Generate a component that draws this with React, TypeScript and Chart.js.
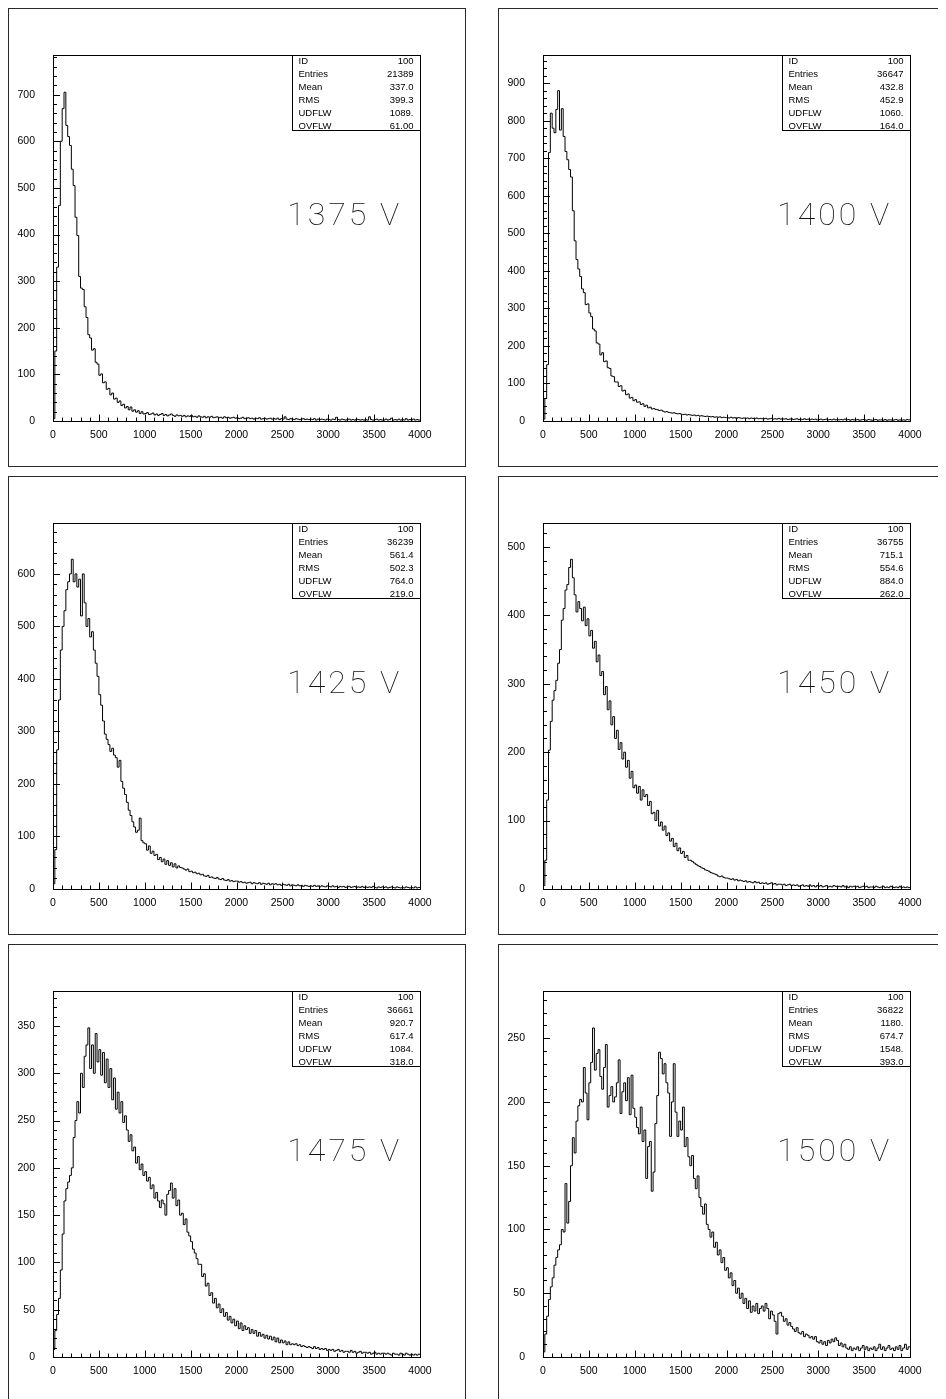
import React, { useEffect, useRef } from "react";
import { Chart, registerables } from "chart.js";

Chart.register(...registerables);

const BIN_WIDTH = 20;
const X_MIN = 0;
const X_MAX = 4000;
const xTickLabels = ["0", "500", "1000", "1500", "2000", "2500", "3000", "3500", "4000"];

const statNames = ["ID", "Entries", "Mean", "RMS", "UDFLW", "OVFLW"];
const stats1375 = ["100", "21389", "337.0", "399.3", "1089.", "61.00"];
const stats1400 = ["100", "36647", "432.8", "452.9", "1060.", "164.0"];
const stats1425 = ["100", "36239", "561.4", "502.3", "764.0", "219.0"];
const stats1450 = ["100", "36755", "715.1", "554.6", "884.0", "262.0"];
const stats1475 = ["100", "36661", "920.7", "617.4", "1084.", "318.0"];
const stats1500 = ["100", "36822", "1180.", "674.7", "1548.", "393.0"];

const voltageLabels = ["1375 V", "1400 V", "1425 V", "1450 V", "1475 V", "1500 V"];

// bin contents, 200 bins of width 20 from 0 to 4000
const h1375 = [
  5, 150, 330, 462, 600, 670, 705, 634, 610, 591,
  540, 505, 437, 398, 310, 285, 282, 245, 222, 185,
  178, 152, 155, 126, 122, 98, 101, 82, 84, 68,
  70, 56, 60, 47, 49, 40, 43, 33, 36, 28,
  31, 24, 30, 21, 24, 19, 22, 16, 20, 15,
  16, 18, 14, 15, 17, 13, 15, 12, 14, 16,
  12, 14, 11, 13, 15, 12, 10, 13, 11, 12,
  10, 12, 9, 11, 10, 12, 9, 10, 8, 11,
  9, 8, 10, 7, 9, 8, 10, 7, 8, 9,
  7, 8, 6, 9, 7, 8, 6, 7, 8, 6,
  7, 5, 6, 8, 5, 6, 7, 5, 6, 4,
  6, 5, 7, 4, 5, 6, 4, 5, 6, 4,
  5, 4, 6, 3, 5, 4, 9, 4, 3, 5,
  4, 3, 5, 4, 3, 4, 5, 3, 4, 3,
  4, 3, 5, 2, 4, 3, 4, 3, 2, 4,
  3, 2, 4, 3, 8, 3, 2, 4, 3, 2,
  3, 4, 2, 3, 2, 4, 3, 2, 3, 2,
  3, 2, 9, 3, 2, 3, 4, 2, 3, 2,
  2, 4, 2, 3, 6, 2, 3, 2, 4, 2,
  3, 2, 5, 2, 3, 2, 4, 2, 3, 2,
];

const h1400 = [
  5, 60, 150, 715, 820, 780, 768, 830, 880, 775,
  832, 758, 718, 696, 670, 650, 560, 480, 430, 405,
  385, 352, 342, 310, 312, 288, 278, 245, 240, 208,
  205, 176, 182, 158, 160, 142, 140, 120, 118, 104,
  104, 92, 94, 80, 82, 70, 72, 61, 63, 54,
  57, 50, 51, 44, 46, 39, 42, 35, 37, 32,
  33, 31, 30, 28, 29, 26, 24, 25, 23, 22,
  21, 22, 20, 19, 20, 18, 17, 18, 16, 17,
  16, 15, 16, 14, 15, 13, 14, 13, 12, 13,
  12, 11, 12, 10, 11, 10, 11, 9, 10, 9,
  9, 8, 10, 8, 9, 7, 9, 8, 7, 8,
  7, 8, 6, 8, 7, 6, 8, 6, 7, 6,
  6, 7, 5, 6, 7, 5, 6, 5, 7, 5,
  6, 5, 6, 4, 5, 6, 4, 5, 6, 4,
  5, 4, 6, 4, 5, 3, 5, 4, 5, 3,
  4, 5, 3, 4, 5, 3, 4, 3, 5, 3,
  4, 3, 4, 3, 5, 3, 4, 2, 4, 3,
  3, 4, 2, 3, 4, 3, 2, 4, 3, 2,
  3, 4, 2, 3, 3, 2, 4, 2, 3, 3,
  2, 3, 4, 2, 3, 2, 3, 2, 4, 3,
];

const h1425 = [
  10, 75, 265, 360, 455, 500, 530, 570, 585, 600,
  628, 585, 600, 575, 590, 520, 600, 545, 500, 515,
  480, 490, 455, 430, 405, 370, 350, 320, 295, 285,
  275, 262, 268, 255, 250, 232, 245, 205, 192, 180,
  165, 150, 140, 128, 118, 108, 112, 135, 92, 88,
  86, 74, 82, 68, 72, 64, 66, 56, 60, 52,
  57, 47, 54, 45, 50, 42, 48, 40, 44, 41,
  40, 38, 36, 38, 33, 34, 31, 32, 29, 30,
  27, 28, 25, 24, 26, 22, 23, 21, 20, 22,
  19, 18, 20, 17, 16, 18, 15, 16, 14, 15,
  15, 13, 14, 12, 13, 11, 12, 13, 10, 12,
  11, 10, 12, 9, 11, 10, 9, 11, 8, 10,
  9, 10, 8, 9, 7, 9, 8, 7, 9, 6,
  8, 7, 6, 8, 6, 7, 5, 7, 6, 5,
  6, 5, 7, 5, 6, 4, 6, 5, 4, 6,
  5, 4, 6, 4, 5, 3, 5, 4, 5, 3,
  4, 5, 3, 4, 5, 3, 4, 3, 5, 3,
  4, 3, 4, 3, 5, 3, 2, 4, 3, 4,
  3, 4, 2, 3, 4, 3, 2, 4, 3, 2,
  3, 2, 4, 3, 2, 3, 2, 4, 2, 3,
];

const h1450 = [
  5, 42, 130, 203, 245, 276, 290, 305, 330, 350,
  393, 410, 437, 445, 470, 482, 455, 430, 405, 420,
  410, 392, 412, 385, 395, 370, 378, 352, 362, 332,
  342, 312, 318, 284, 296, 262, 275, 240, 252, 220,
  232, 204, 214, 190, 200, 178, 188, 162, 172, 148,
  152, 140, 150, 130, 145, 135, 138, 122, 128, 110,
  112, 100, 115, 92, 98, 86, 92, 78, 82, 70,
  74, 62, 67, 56, 60, 52, 55, 46, 49, 42,
  42, 40, 38, 36, 34, 33, 31, 30, 28, 27,
  26, 24, 23, 22, 21, 19, 18, 19, 17, 16,
  16, 15, 14, 15, 13, 14, 12, 13, 12, 11,
  12, 10, 11, 10, 9, 11, 9, 10, 8, 9,
  8, 9, 7, 8, 9, 7, 8, 6, 7, 7,
  6, 7, 5, 6, 7, 5, 6, 5, 6, 4,
  5, 6, 4, 5, 4, 6, 4, 5, 3, 5,
  4, 5, 3, 4, 5, 3, 4, 3, 5, 4,
  3, 4, 3, 5, 3, 4, 2, 4, 3, 4,
  3, 4, 2, 3, 4, 3, 4, 2, 3, 3,
  2, 4, 3, 2, 3, 4, 2, 3, 2, 4,
  3, 2, 3, 2, 4, 2, 3, 2, 3, 2,
];

const h1475 = [
  8, 28, 45, 62, 92, 130, 165, 178, 185, 192,
  200, 232, 250, 270, 258, 300, 285, 318, 330, 348,
  305, 330, 300, 342, 312, 325, 298, 322, 290, 315,
  285, 305, 272, 295, 262, 280, 258, 270, 248, 255,
  240, 228, 235, 218, 222, 205, 212, 198, 204, 192,
  196, 186, 190, 178, 182, 168, 174, 165, 158, 166,
  162, 150, 172, 176, 184, 168, 178, 160, 166, 150,
  152, 140, 146, 132, 128, 122, 114, 110, 104, 98,
  98, 85, 88, 75, 78, 65, 68, 57, 62, 52,
  56, 47, 51, 43, 47, 39, 43, 36, 40, 33,
  38, 30, 36, 28, 33, 29, 31, 25, 29, 25,
  28, 22, 26, 22, 24, 20, 23, 19, 22, 18,
  21, 16, 20, 15, 18, 15, 17, 13, 16, 13,
  14, 13, 14, 12, 13, 11, 12, 11, 10, 11,
  10, 9, 11, 9, 10, 8, 9, 8, 9, 7,
  8, 7, 8, 6, 7, 8, 6, 7, 5, 6,
  6, 5, 7, 5, 6, 4, 5, 6, 4, 5,
  5, 4, 5, 3, 4, 5, 3, 4, 3, 4,
  4, 3, 4, 3, 2, 4, 3, 3, 2, 4,
  3, 2, 4, 3, 2, 3, 2, 3, 2, 3,
];

const h1500 = [
  4, 18, 32, 45, 55, 62, 72, 78, 84, 88,
  100, 98, 136, 105, 122, 150, 172, 160, 185, 197,
  202, 200, 227, 207, 186, 215, 231, 258, 225, 238,
  241, 220, 210, 227, 245, 196, 205, 212, 200, 204,
  215, 233, 191, 208, 215, 201, 219, 190, 221, 195,
  188, 180, 175, 196, 169, 178, 140, 165, 169, 130,
  145, 183, 205, 239, 234, 222, 230, 215, 207, 173,
  200, 230, 192, 173, 185, 178, 196, 165, 172, 157,
  150, 158, 140, 132, 142, 125, 118, 112, 120, 104,
  100, 94, 98, 86, 90, 80, 84, 74, 78, 68,
  70, 62, 66, 56, 60, 50, 54, 46, 50, 42,
  46, 38, 44, 35, 40, 36, 42, 34, 38, 40,
  36, 42, 38, 30, 36, 33, 28, 18, 34, 35,
  32, 28, 30, 25, 27, 24, 22, 20, 23, 19,
  18, 20, 16, 18, 17, 15, 16, 14, 16, 12,
  11, 13, 10, 12, 9, 13, 11, 14, 12, 15,
  13, 9, 11, 8, 10, 7, 6, 8, 5, 7,
  6, 8, 5, 7, 9, 6, 8, 5, 7, 6,
  8, 5, 7, 10, 6, 8, 5, 7, 9, 6,
  7, 5, 8, 6, 9, 5, 7, 10, 6, 8,
];

const seriesList = [h1375, h1400, h1425, h1450, h1475, h1500];
const statsList = [stats1375, stats1400, stats1425, stats1450, stats1475, stats1500];
const yMaxList = [785, 975, 697, 535, 387, 287];
const yMajorList = [100, 100, 100, 100, 50, 50];
const yMinorList = [20, 20, 20, 20, 10, 10];

const PANEL_W = 458;
const PANEL_H = 459;
const COL_X = [0, 490];
const ROW_Y = [0, 468, 936];

const TICK_FONT = "'Liberation Sans', Arial, sans-serif";

function yTickValues(idx: number) {
  const out: number[] = [];
  const major = yMajorList[idx];
  for (let k = 0; k * major <= yMaxList[idx]; k++) out.push(k * major);
  return out;
}

function makePanelPlugin(idx: number) {
  return {
    id: "pawPanel" + idx,
    afterDatasetsDraw(chart: any) {
      const { ctx, chartArea: a } = chart;
      const xs = chart.scales.x;
      const ys = chart.scales.y;
      const yMax = yMaxList[idx];
      const major = yMajorList[idx];
      const minor = yMinorList[idx];
      ctx.save();
      // outer frame
      ctx.lineWidth = 1;
      ctx.strokeStyle = "#2a2a2a";
      ctx.strokeRect(0.5, 0.5, chart.width - 1, chart.height - 1);
      // plot frame
      ctx.strokeStyle = "#000";
      ctx.strokeRect(a.left + 0.5, a.top + 0.5, a.right - a.left, a.bottom - a.top);
      // y ticks (inward)
      const nY = Math.floor(yMax / minor + 1e-6);
      for (let k = 0; k <= nY; k++) {
        const v = k * minor;
        const isMajor = Math.abs(v / major - Math.round(v / major)) < 1e-6;
        const py = Math.round(ys.getPixelForValue(v)) + 0.5;
        ctx.beginPath();
        ctx.moveTo(a.left, py);
        ctx.lineTo(a.left + (isMajor ? 7 : 4), py);
        ctx.stroke();
      }
      // x ticks (inward)
      for (let v = X_MIN; v <= X_MAX; v += 100) {
        const isMajor = v % 500 === 0;
        const px = Math.round(xs.getPixelForValue(v)) + 0.5;
        ctx.beginPath();
        ctx.moveTo(px, a.bottom + 0.5);
        ctx.lineTo(px, a.bottom + 0.5 - (isMajor ? 7 : 4));
        ctx.stroke();
      }
      // statistics box
      const bx = 284.5;
      const by = a.top + 0.5;
      const bw = a.right + 0.5 - bx;
      const bh = 75;
      ctx.fillStyle = "#fff";
      ctx.fillRect(bx, by, bw, bh);
      ctx.strokeRect(bx, by, bw, bh);
      ctx.fillStyle = "#000";
      ctx.font = "9.5px " + TICK_FONT;
      ctx.textBaseline = "middle";
      const stats = statsList[idx];
      statNames.forEach((n, i) => {
        const ty = a.top + 6 + i * 13.1;
        ctx.textAlign = "left";
        ctx.fillText(n, bx + 6, ty);
        ctx.textAlign = "right";
        ctx.fillText(stats[i], a.right - 6.5, ty);
      });
      // voltage label (thin)
      ctx.font = "100 32px 'Roboto', 'DejaVu Sans', sans-serif";
      try {
        (ctx as any).letterSpacing = "3px";
      } catch (e) {
        /* ignore */
      }
      ctx.fillStyle = "#111";
      ctx.textAlign = "right";
      ctx.textBaseline = "alphabetic";
      ctx.fillText(voltageLabels[idx], 394, 217);
      try {
        (ctx as any).letterSpacing = "0px";
      } catch (e) {
        /* ignore */
      }
      ctx.restore();
    },
  };
}

function Panel({ idx, left, top }: { idx: number; left: number; top: number }) {
  const ref = useRef<HTMLCanvasElement | null>(null);
  useEffect(() => {
    const values = seriesList[idx];
    const pts = [{ x: X_MIN, y: 0 }]
      .concat(values.map((v, i) => ({ x: X_MIN + i * BIN_WIDTH, y: v })))
      .concat([{ x: X_MAX, y: values[values.length - 1] }]);
    const major = yMajorList[idx];
    const yTicks = yTickValues(idx);
    const xTicks = xTickLabels.map(Number);
    const chart = new Chart(ref.current as HTMLCanvasElement, {
      type: "line",
      data: {
        datasets: [
          {
            data: pts,
            stepped: "before",
            borderColor: "#000",
            borderWidth: 1,
            pointRadius: 0,
            fill: false,
            tension: 0,
          } as any,
        ],
      },
      options: {
        animation: false,
        responsive: false,
        devicePixelRatio: 1,
        events: [],
        layout: { padding: { top: 47, right: 46, left: 0, bottom: 0 } },
        plugins: { legend: { display: false }, tooltip: { enabled: false } },
        scales: {
          x: {
            type: "linear",
            min: X_MIN,
            max: X_MAX,
            afterBuildTicks: (s: any) => {
              s.ticks = xTicks.map((v) => ({ value: v }));
            },
            afterFit: (s: any) => {
              s.height = 46;
            },
            grid: { display: false },
            border: { display: false },
            ticks: {
              autoSkip: false,
              maxRotation: 0,
              padding: 0,
              color: "#000",
              font: { family: TICK_FONT, size: 10.5 },
              callback: (v: any) => {
                const i = xTicks.indexOf(Number(v));
                return i >= 0 ? xTickLabels[i] : "";
              },
            },
          },
          y: {
            type: "linear",
            min: 0,
            max: yMaxList[idx],
            afterBuildTicks: (s: any) => {
              s.ticks = yTicks.map((v) => ({ value: v }));
            },
            afterFit: (s: any) => {
              s.width = 45;
            },
            grid: { display: false },
            border: { display: false },
            ticks: {
              autoSkip: false,
              padding: 10,
              color: "#000",
              font: { family: TICK_FONT, size: 10.5 },
              callback: (v: any) => (Number(v) % major === 0 ? String(v) : ""),
            },
          },
        },
      } as any,
      plugins: [makePanelPlugin(idx)],
    });
    return () => chart.destroy();
  }, [idx]);
  return (
    <canvas
      ref={ref}
      width={PANEL_W}
      height={PANEL_H}
      style={{ position: "absolute", left, top, width: PANEL_W, height: PANEL_H }}
    />
  );
}

export default function App() {
  useEffect(() => {
    document.body.style.overflow = "hidden";
    document.documentElement.style.overflow = "hidden";
  }, []);
  const panels = [];
  for (let r = 0; r < 3; r++) {
    for (let c = 0; c < 2; c++) {
      const idx = r * 2 + c;
      panels.push(<Panel key={idx} idx={idx} left={COL_X[c]} top={ROW_Y[r]} />);
    }
  }
  return (
    <div
      style={{
        position: "relative",
        width: 938,
        height: 1391,
        overflow: "hidden",
        background: "#fff",
      }}
    >
      {panels}
    </div>
  );
}
